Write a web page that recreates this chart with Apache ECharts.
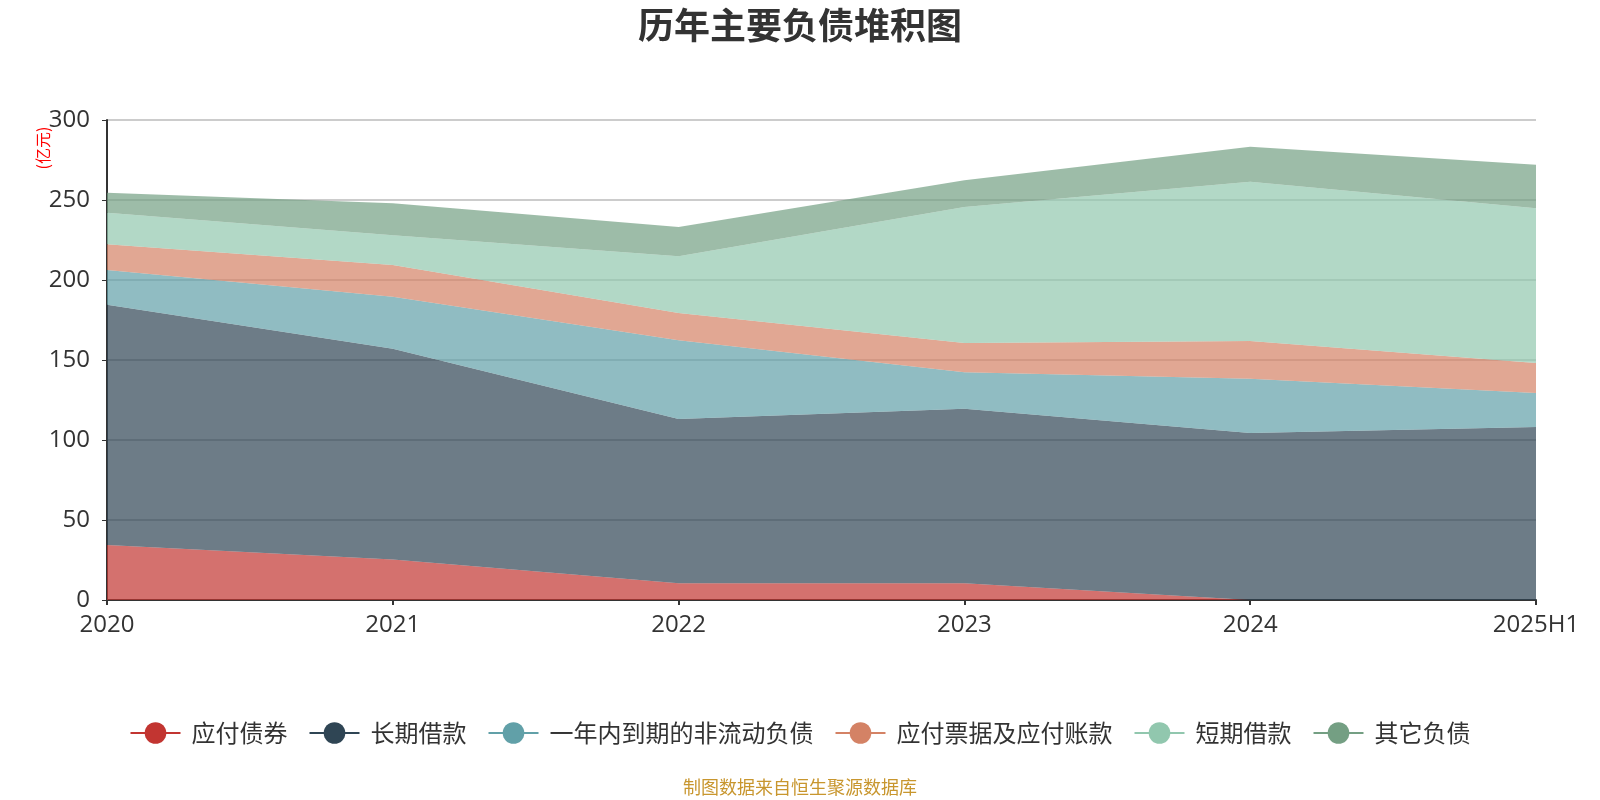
<!DOCTYPE html>
<html lang="zh">
<head>
    <meta charset="UTF-8">
    <title>历年主要负债堆积图</title>
    <script src="https://cdn.jsdelivr.net/npm/echarts@6/dist/echarts.min.js"></script>
    <style>
        html, body { margin: 0; padding: 0; background: #fff; }
        #main { width: 1600px; height: 800px; }
    </style>
</head>
<body>
<div id="main"></div>
<script>
    // 数据（亿元）
    var years = ['2020', '2021', '2022', '2023', '2024', '2025H1'];
    var seriesNames = ['应付债券', '长期借款', '一年内到期的非流动负债', '应付票据及应付账款', '短期借款', '其它负债'];
    var bondsPayable = [34.4, 25.3, 10.4, 10.4, 0, 0];
    var longTermLoans = [150.2, 131.7, 102.7, 109.1, 104.3, 108.1];
    var currentNonCurrent = [21.7, 32.6, 49.2, 22.8, 34.0, 21.2];
    var notesPayable = [16.0, 19.7, 17.1, 18.3, 23.6, 18.8];
    var shortTermLoans = [19.7, 18.7, 35.4, 85.1, 99.5, 96.8];
    var otherLiabilities = [12.5, 20.0, 18.4, 16.7, 21.9, 27.1];
    var yTicks = [0, 50, 100, 150, 200, 250, 300];

    var colors = ['#c23531', '#2f4554', '#61a0a8', '#d48265', '#91c7ae', '#749f83'];
    var allData = [bondsPayable, longTermLoans, currentNonCurrent, notesPayable, shortTermLoans, otherLiabilities];

    var fontFamily = '"Noto Sans CJK SC", "Noto Sans", sans-serif';
    var numFont = '"Open Sans", "Noto Sans CJK SC", sans-serif';

    var myChart = echarts.init(document.getElementById('main'));

    var series = [];
    for (var i = 0; i < seriesNames.length; i++) {
        series.push({
            name: seriesNames[i],
            type: 'line',
            stack: 'total',
            data: allData[i],
            symbol: 'circle',
            showSymbol: false,
            lineStyle: { width: 0 },
            areaStyle: { opacity: 0.7 },
            emphasis: { disabled: true }
        });
    }

    var option = {
        animation: false,
        color: colors,
        textStyle: { fontFamily: fontFamily },
        title: {
            text: '历年主要负债堆积图',
            left: 'center',
            top: 2,
            textStyle: { fontSize: 36, fontWeight: 'bold', color: '#333', fontFamily: fontFamily }
        },
        grid: { left: 107, right: 64, top: 120, bottom: 200 },
        legend: {
            data: seriesNames,
            top: 716,
            left: 'center',
            itemWidth: 50,
            itemHeight: 27,
            itemGap: 21,
            lineStyle: { width: 2, opacity: 1 },
            itemStyle: { opacity: 1 },
            textStyle: { fontSize: 24, color: '#333', padding: [0, 0, 0, 6] }
        },
        xAxis: {
            type: 'category',
            data: years,
            boundaryGap: false,
            axisLine: { lineStyle: { color: '#333', width: 2 } },
            axisTick: { alignWithLabel: true, length: 5, lineStyle: { color: '#333', width: 2 } },
            axisLabel: { fontSize: 24, color: '#333', margin: 13, fontFamily: numFont }
        },
        yAxis: {
            type: 'value',
            min: yTicks[0],
            max: yTicks[yTicks.length - 1],
            interval: 50,
            axisLine: { show: true, lineStyle: { color: '#333', width: 2 } },
            axisTick: { show: true, length: 5, lineStyle: { color: '#333' } },
            axisLabel: { fontSize: 24, color: '#333', margin: 17, fontFamily: numFont },
            splitLine: { lineStyle: { color: '#ccc', width: 2 } }
        },
        graphic: [
            {
                type: 'text',
                x: 43,
                y: 148,
                rotation: Math.PI / 2,
                style: {
                    text: '(亿元)',
                    fill: '#ff0000',
                    fontSize: 16,
                    fontFamily: fontFamily,
                    textAlign: 'center',
                    textVerticalAlign: 'middle'
                }
            },
            {
                type: 'text',
                left: 'center',
                top: 778,
                style: {
                    text: '制图数据来自恒生聚源数据库',
                    fill: '#c8962e',
                    fontSize: 18,
                    fontFamily: fontFamily
                }
            }
        ],
        series: series
    };

    myChart.setOption(option);
</script>
</body>
</html>
